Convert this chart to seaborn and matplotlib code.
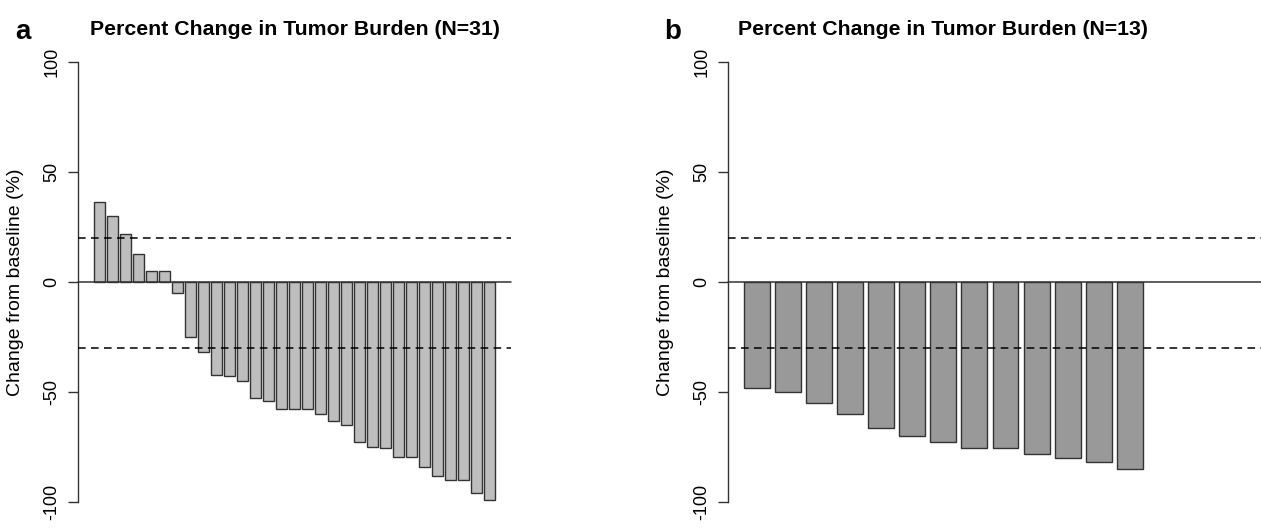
import matplotlib
matplotlib.use('Agg')
import pandas as pd
import matplotlib.pyplot as plt
import seaborn as sns

# Valores (variação percentual por doente)
change_a = [36.3, 30.2, 22.0, 12.9, 5.0, 5.0, -5.0, -24.9, -31.8, -42.1, -42.7,
            -45.1, -52.9, -54.0, -57.8, -57.8, -57.8, -60.3, -63.2, -65.0, -72.8,
            -75.1, -75.7, -79.6, -79.6, -84.0, -88.3, -90.1, -90.1, -95.9, -99.1]
change_b = [-48.3, -50.2, -54.9, -60.3, -66.6, -69.9, -72.8, -75.4, -75.4,
            -78.4, -79.9, -81.8, -85.3]
titles = ['Percent Change in Tumor Burden (N=31)', 'Percent Change in Tumor Burden (N=13)']
letters = ['a', 'b']
ylabel = 'Change from baseline (%)'
yticks = [-100, -50, 0, 50, 100]
ref_lines = [20, -30]
bar_colors = ['#BEBEBE', '#999999']
EDGE = '#333333'

sns.set_theme(style='white')
plt.rcParams['font.family'] = ['Liberation Sans', 'DejaVu Sans']
plt.rcParams['text.color'] = 'black'
plt.rcParams['axes.labelcolor'] = 'black'
plt.rcParams['ytick.color'] = 'black'

W, H = 1261, 529
fig = plt.figure(figsize=(W / 100, H / 100), dpi=100)

def px_axes(left, right, top, bottom):
    return fig.add_axes([left / W, 1 - bottom / H, (right - left) / W, (bottom - top) / H])

ax_a = px_axes(78, 511, 44.7, 519.3)
ax_b = px_axes(727.7, 1159, 44.7, 519.3)

panels = [
    (ax_a, change_a, (-1.65, 31.65), 1.0, 78),
    (ax_b, change_b, (-0.937, 12.937), 1.237, 727.7),
]

for i, (ax, vals, xlim, line_end, axis_px) in enumerate(panels):
    df = pd.DataFrame({'id': [str(k) for k in range(len(vals))], 'change': vals})
    sns.barplot(data=df, x='id', y='change', color=bar_colors[i], saturation=1,
                edgecolor=EDGE, linewidth=1.0, width=1 / 1.2, ax=ax)
    ax.set_xlim(*xlim)
    ax.set_ylim(-108, 108)
    ax.axhline(0, xmin=0, xmax=line_end, color=EDGE, lw=1.1, clip_on=False, zorder=3)
    for y in ref_lines:
        ax.axhline(y, xmin=0, xmax=line_end, color='black', lw=1.1,
                   dashes=(5, 3.5), clip_on=False, zorder=4)
    for s in ['top', 'right', 'bottom']:
        ax.spines[s].set_visible(False)
    ax.spines['left'].set_bounds(-100, 100)
    ax.spines['left'].set_color(EDGE)
    ax.spines['left'].set_linewidth(1.0)
    ax.set_xticks([])
    ax.set_xlabel('')
    ax.set_yticks(yticks)
    ax.set_yticklabels([str(t) for t in yticks], rotation=90, va='center', fontsize=13)
    ax.tick_params(axis='y', left=True, length=7, width=1.0, color=EDGE, pad=5.5,
                   labelcolor='black')
    ax.set_ylabel(ylabel, fontsize=14, color='black')
    ax.yaxis.set_label_coords(-54 / (ax.get_position().width * W), 0.5)
    ax.set_title(titles[i], fontsize=15.3, fontweight='bold', pad=7, color='black')
    fig.text((axis_px - 63) / W, 1 - 39 / H, letters[i], fontsize=20,
             fontweight='bold', va='baseline', color='black')

fig.savefig('out.png', dpi=100)
